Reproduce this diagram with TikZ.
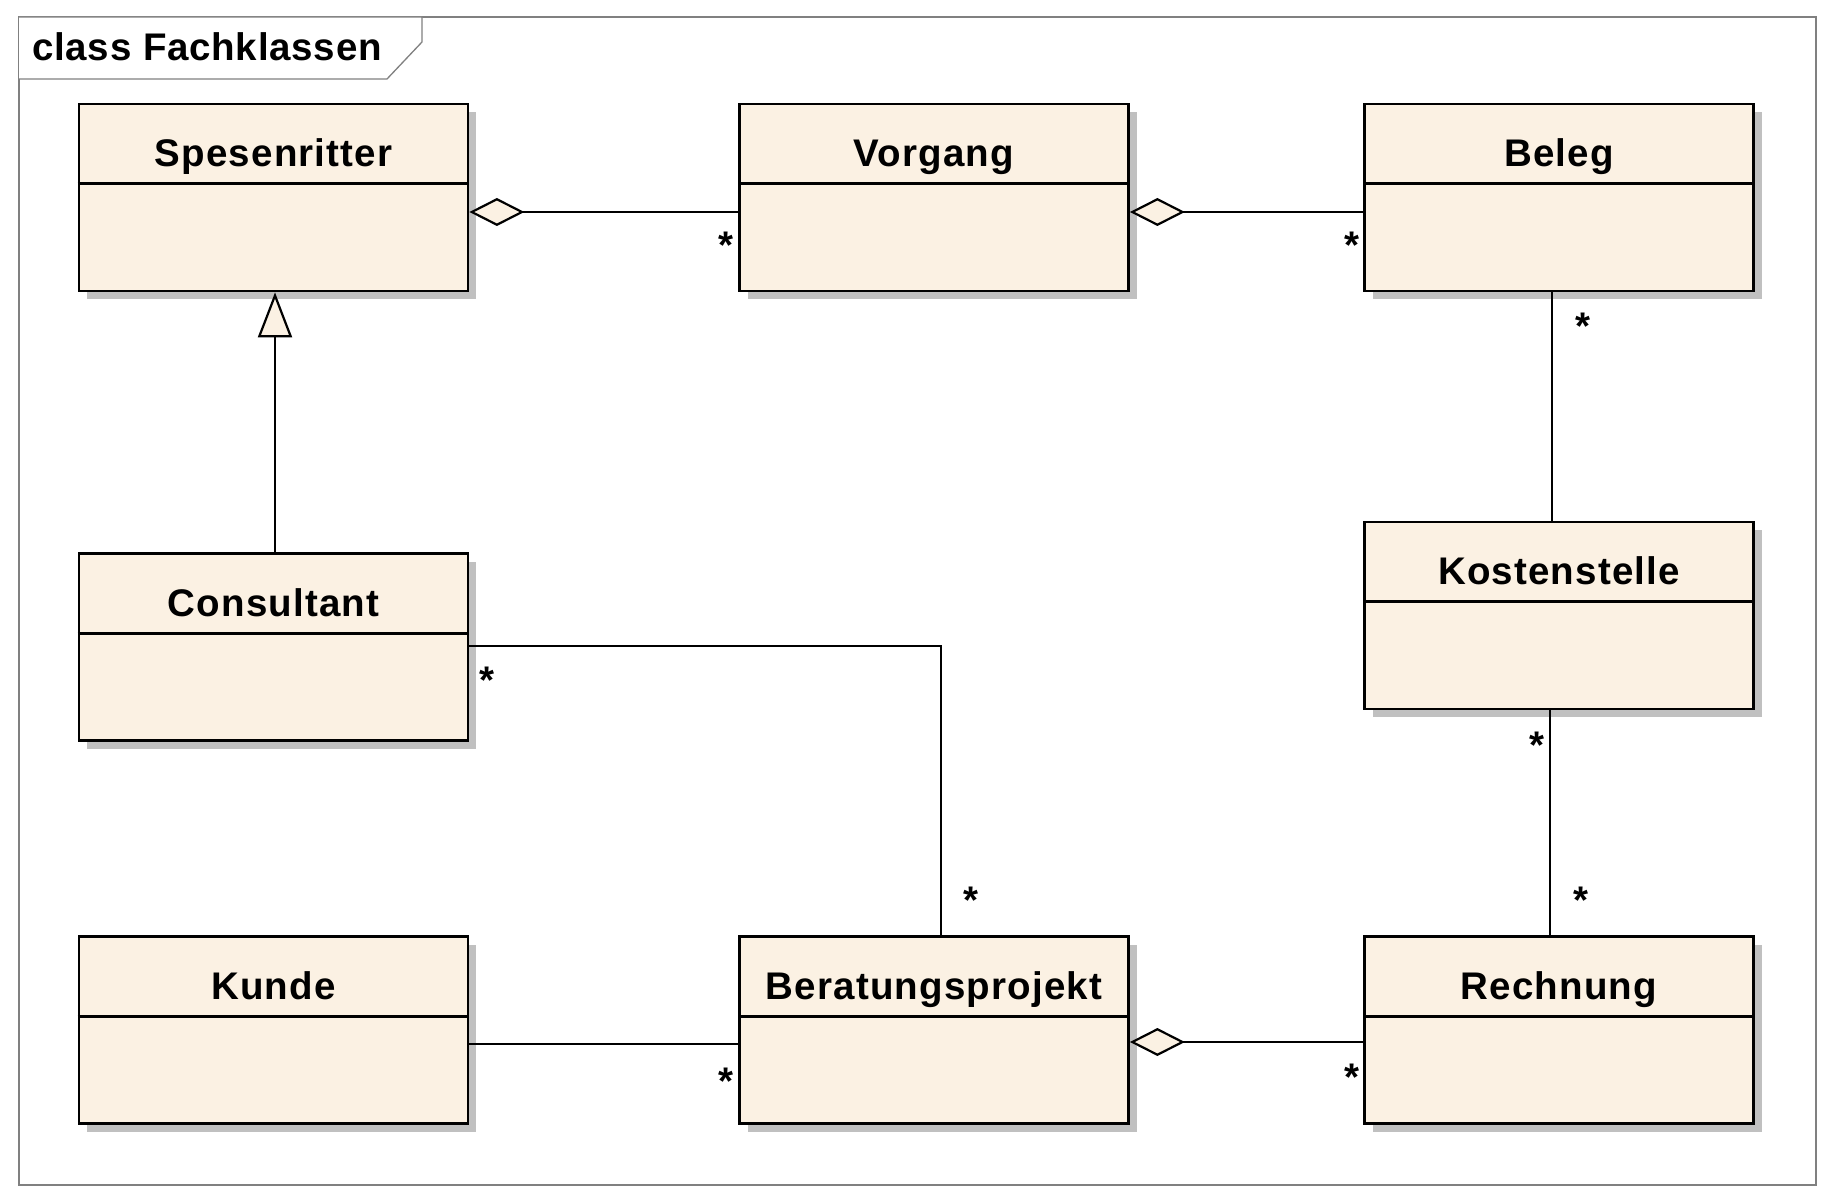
\documentclass[tikz,border=0pt]{standalone}
\usepackage{fontspec}
\setmainfont{Liberation Sans}
\newfontfamily\umlfont{Liberation Sans}[LetterSpace=3]
\newfontfamily\titlefont{Liberation Sans}[LetterSpace=2]
\usetikzlibrary{arrows.meta,shadows}
\definecolor{clsfill}{RGB}{251,241,227}
\definecolor{shadowgray}{RGB}{192,192,192}
\definecolor{framegray}{RGB}{128,128,128}
\tikzset{
  cls/.style={draw=black, line width=2.8pt, fill=clsfill, minimum width=389pt,
    minimum height=187pt, inner sep=0pt,
    drop shadow={shadow xshift=8pt, shadow yshift=-8pt, fill=shadowgray, opacity=1}},
  clsname/.style={font=\umlfont\bfseries\fontsize{38.5}{45}\selectfont, anchor=base, inner sep=0pt},
  divider/.style={line width=2.8pt},
  conn/.style={line width=2.2pt},
  agg/.style={conn, {Diamond[length=55pt,width=28pt,fill=clsfill]}-},
  gen/.style={conn, -{Triangle[length=45pt,width=34pt,fill=clsfill]}},
  mult/.style={font=\umlfont\bfseries\fontsize{38.5}{45}\selectfont, anchor=base, inner sep=0pt},
  frameline/.style={draw=framegray, line width=1.3pt},
  titletext/.style={font=\titlefont\bfseries\fontsize{38.5}{45}\selectfont, anchor=base west, inner sep=0pt}
}
\newcommand\umlclass[4]{%
  \node[cls] (#1) at (#2,#3) {};
  \draw[divider] ([yshift=-81pt]#1.north west) -- ([yshift=-81pt]#1.north east);
  \node[clsname] (#1-name) at ([yshift=-64pt]#1.north) {#4};
}
\begin{document}
\begin{tikzpicture}[x=1pt,y=-1pt]
\fill[white] (0,0) rectangle (1834,1198);
\useasboundingbox (0,0) rectangle (1834,1198);
% frame
\draw[frameline] (19,17) rectangle (1816,1185);
\draw[frameline, fill=white] (19,17) -- (422,17) -- (422,42) -- (387,79) -- (19,79);
\node[titletext] (title) at (32,61) {class Fachklassen};
% classes
\umlclass{sp}{273.5}{197.5}{Spesenritter}
\umlclass{vo}{934}{197.5}{Vorgang}
\umlclass{be}{1559}{197.5}{Beleg}
\umlclass{co}{273.5}{647}{Consultant}
\umlclass{ko}{1559}{615.5}{Kostenstelle}
\umlclass{ku}{273.5}{1030}{Kunde}
\umlclass{bp}{934}{1030}{Beratungsprojekt}
\umlclass{re}{1559}{1030}{Rechnung}
% connectors
\draw[agg] ([yshift=-14.5pt]sp.east) -- ([yshift=-14.5pt]vo.west);
\draw[agg] ([yshift=-14.5pt]vo.east) -- ([yshift=-14.5pt]be.west);
\draw[conn] ([xshift=-7pt]be.south) -- ([xshift=-7pt]ko.north);
\draw[conn] ([xshift=-9pt]ko.south) -- ([xshift=-9pt]re.north);
\draw[gen] ([xshift=1.5pt]co.north) -- ([xshift=1.5pt]sp.south);
\draw[conn] ([yshift=1pt]co.east) -| ([xshift=7pt]bp.north);
\draw[conn] ([yshift=-14pt]ku.east) -- ([yshift=-14pt]bp.west);
\draw[agg] ([yshift=-12pt]bp.east) -- ([yshift=-12pt]re.west);
% multiplicities
\node[mult] (m1) at (726,258.5) {*};
\node[mult] (m2) at (1352,258.5) {*};
\node[mult] (m3) at (1583,339.5) {*};
\node[mult] (m4) at (1537,758.5) {*};
\node[mult] (m5) at (1581,913.5) {*};
\node[mult] (m6) at (1352,1090.5) {*};
\node[mult] (m7) at (726,1094.5) {*};
\node[mult] (m8) at (971,913.5) {*};
\node[mult] (m9) at (487,693.5) {*};
\end{tikzpicture}
\end{document}
